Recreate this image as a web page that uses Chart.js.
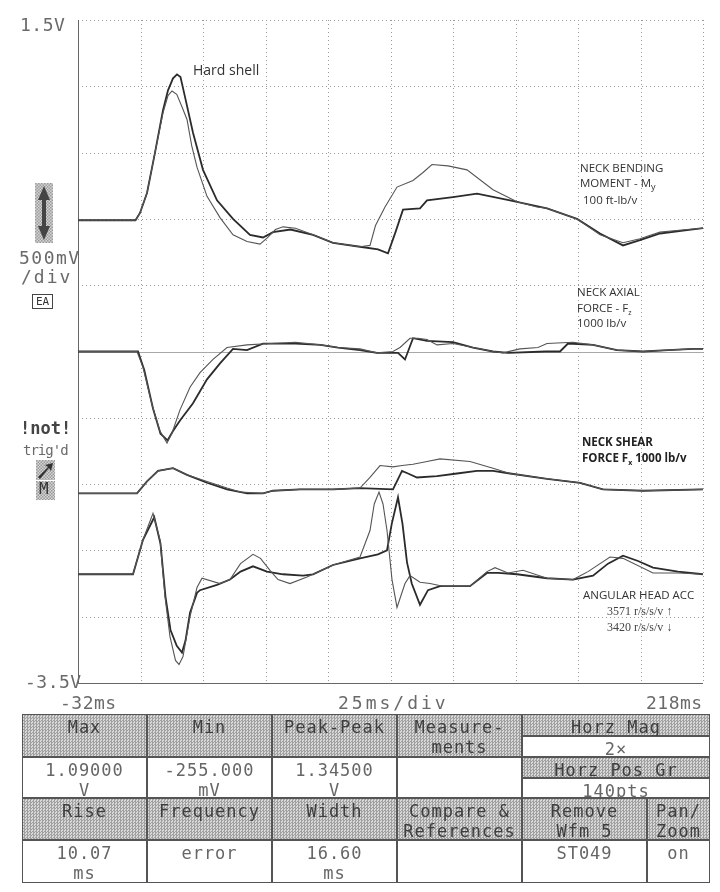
<!DOCTYPE html>
<html>
<head>
<meta charset="utf-8">
<script src="https://cdn.jsdelivr.net/npm/chart.js"></script>
<style>
  body { margin: 0; background: #fff; }
  #page { position: relative; width: 720px; height: 892px; overflow: hidden; background: #fff; }
  #scope { position: absolute; left: 0; top: 0; }
  .lbl { position: absolute; white-space: nowrap; }
  .mono { font-family: "DejaVu Sans Mono", "Liberation Mono", monospace; color: #6a6a6a; font-size: 18px; line-height: 1; }
  .note { font-family: "Open Sans", "Noto Sans", sans-serif; color: #333; font-size: 11.5px; line-height: 1; }
  .serif { font-family: "Liberation Serif", "DejaVu Serif", serif; color: #444; font-size: 12px; line-height: 1; }
  .cell { position: absolute; box-sizing: border-box; font-family: "DejaVu Sans Mono", "Liberation Mono", monospace;
          font-size: 17px; color: #666; text-align: center; line-height: 20px; letter-spacing: 1px; }
  .shade { background: repeating-conic-gradient(#a0a0a0 0 25%, #d8d8d8 0 50%) 0 0 / 3px 3px; color: #3e3e3e; }
</style>
</head>
<body>
<div id="page">
  <canvas id="scope" width="720" height="712"></canvas>
</div>
<script>
// time axis (ms) and voltage axis (V), one division = 25 ms / 500 mV
const timeTicks = [-32, -7, 18, 43, 68, 93, 118, 143, 168, 193, 218];
const voltTicks = [1.5, 1.0, 0.5, 0.0, -0.5, -1.0, -1.5, -2.0, -2.5, -3.0, -3.5];

// neck bending moment My (hard shell = higher peak)
const bendHard = [[-32,-0.01],[-9,-0.01],[-7.2,0.045],[-4.4,0.195],[-1.2,0.5],[2,0.82],[4,0.97],[6,1.06],[7.6,1.09],[9,1.07],
  [10.8,0.92],[14,0.65],[18,0.37],[23.6,0.14],[30,0.0],[36.8,-0.12],[42,-0.14],[46,-0.1],[53,-0.08],[62,-0.12],[70,-0.18],
  [80.8,-0.21],[88,-0.23],[92,-0.26],[95,-0.1],[98,0.07],[104.8,0.08],[107.6,0.14],[118,0.165],[127.6,0.19],[140.8,0.14],
  [155.6,0.08],[167.6,0.0],[176.8,-0.11],[186,-0.2],[192.8,-0.16],[200.8,-0.11],[211.6,-0.085],[218,-0.07]];
const bendSoft = [[-32,-0.01],[-9,-0.01],[-7.2,0.045],[-4.4,0.195],[-1.2,0.5],[2,0.8],[4,0.93],[5.6,0.965],[7.5,0.94],[9.5,0.85],
  [11.6,0.75],[13.5,0.55],[15.6,0.39],[19.6,0.17],[24.8,0.01],[30,-0.12],[35.6,-0.17],[40.8,-0.19],[43.6,-0.145],[47,-0.08],
  [50,-0.06],[55,-0.07],[62,-0.12],[70,-0.18],[80.8,-0.21],[84.8,-0.2],[87,-0.05],[90.8,0.09],[95.6,0.24],[102,0.29],[106,0.35],
  [109.6,0.41],[116,0.4],[123.6,0.37],[134,0.22],[143.6,0.13],[151.6,0.09],[155.6,0.08],[167.6,0.0],[176.8,-0.12],[186,-0.18],
  [192.8,-0.15],[200.8,-0.1],[211.6,-0.08],[218,-0.07]];

// neck axial force Fz
const axialA = [[-32,-1.0],[-8.4,-1.0],[-6,-1.12],[-2.4,-1.4],[0.8,-1.6],[3.6,-1.69],[5.5,-1.62],[8.8,-1.44],[12.8,-1.27],
  [16.8,-1.16],[22,-1.06],[27.6,-0.97],[35.6,-0.95],[45,-0.94],[55,-0.93],[65,-0.95],[72,-0.97],[80.8,-0.98],[87.6,-1.01],
  [94,-1.0],[96.8,-0.97],[100.8,-0.9],[104,-0.9],[107.6,-0.91],[111.6,-0.95],[118,-0.94],[126,-0.97],[134,-1.0],[138,-1.01],
  [144.8,-0.98],[152,-0.97],[155.6,-0.94],[166,-0.93],[174,-0.95],[183.6,-0.99],[194,-1.0],[204,-0.99],[214,-0.98],[218,-0.98]];
const axialB = [[-32,-1.0],[-8,-1.0],[-5.5,-1.14],[-2,-1.43],[1,-1.62],[3.8,-1.67],[6,-1.6],[8.8,-1.52],[14,-1.39],[19.6,-1.21],
  [24.8,-1.09],[30,-0.98],[35.6,-0.99],[42,-0.94],[55,-0.94],[65,-0.95],[72,-0.97],[80.8,-0.99],[87.6,-1.01],[96,-1.01],
  [98.8,-1.06],[102,-0.9],[107.6,-0.92],[118,-0.93],[126,-0.97],[134,-1.0],[140,-1.01],[155,-1.0],[160.8,-1.0],[164,-0.94],
  [174,-0.95],[183.6,-0.99],[194,-1.0],[204,-0.99],[214,-0.98],[218,-0.98]];

// neck shear force Fx
const shearA = [[-32,-2.07],[-8.4,-2.07],[-4.4,-1.98],[0,-1.9],[6,-1.88],[11.6,-1.93],[19.6,-1.98],[27.6,-2.03],[32.8,-2.06],
  [42,-2.07],[46,-2.05],[56.8,-2.04],[70,-2.04],[80.8,-2.03],[84.8,-1.95],[88.8,-1.86],[94,-1.87],[97.6,-1.86],[102,-1.85],
  [107.6,-1.83],[112.8,-1.81],[124.8,-1.83],[134,-1.88],[140.8,-1.92],[155.6,-1.96],[168.8,-1.99],[178,-2.04],[194,-2.05],[218,-2.04]];
const shearB = [[-32,-2.07],[-8.4,-2.07],[-4.4,-1.98],[0,-1.9],[6,-1.88],[11.6,-1.93],[19.6,-1.99],[27.6,-2.04],[35.6,-2.07],
  [42,-2.07],[46,-2.05],[56.8,-2.04],[70,-2.04],[80.8,-2.03],[94,-2.04],[97.6,-1.9],[100,-1.92],[103.6,-1.95],[111.6,-1.94],
  [119.6,-1.92],[127.6,-1.9],[134,-1.9],[140.8,-1.92],[155.6,-1.96],[168.8,-1.99],[178,-2.04],[194,-2.05],[218,-2.04]];

// angular head acceleration
const accA = [[-32,-2.68],[-10,-2.68],[-6,-2.42],[-2,-2.22],[0.8,-2.42],[2.8,-2.85],[4.8,-3.15],[7,-3.33],[8.4,-3.36],[10,-3.3],
  [12.8,-3.0],[15.6,-2.78],[17.6,-2.71],[24.8,-2.75],[28.8,-2.72],[33,-2.6],[38,-2.53],[41,-2.56],[44.8,-2.65],[48,-2.72],
  [52.8,-2.75],[59.6,-2.7],[70,-2.61],[80.8,-2.55],[84.8,-2.35],[86.5,-2.15],[88.4,-2.06],[90,-2.15],[91.6,-2.35],[93.6,-2.72],
  [95.6,-2.93],[98.8,-2.75],[100.8,-2.69],[104.8,-2.74],[108.8,-2.75],[114,-2.77],[124.8,-2.77],[131.6,-2.66],[134.8,-2.63],
  [140,-2.67],[146,-2.65],[155.6,-2.71],[166,-2.72],[172,-2.66],[180.8,-2.55],[186,-2.56],[198,-2.67],[208,-2.67],[218,-2.68]];
const accB = [[-32,-2.68],[-10,-2.68],[-6,-2.42],[-1.5,-2.25],[1,-2.45],[3,-2.85],[5,-3.1],[7.5,-3.22],[9.6,-3.27],[11,-3.18],
  [12.8,-2.97],[15.6,-2.82],[16.8,-2.8],[23.6,-2.76],[28.8,-2.72],[33,-2.66],[38,-2.62],[43.6,-2.66],[50,-2.68],[58,-2.69],
  [62,-2.68],[70,-2.61],[80.8,-2.56],[88,-2.53],[91.6,-2.5],[93.5,-2.3],[96,-2.1],[97.8,-2.3],[99.6,-2.59],[101.5,-2.75],
  [104.8,-2.91],[108,-2.8],[112.8,-2.77],[124.8,-2.77],[131.6,-2.67],[136,-2.67],[143.6,-2.68],[155.6,-2.71],[166,-2.72],
  [174,-2.69],[180,-2.6],[186,-2.54],[192,-2.58],[198,-2.63],[208,-2.66],[218,-2.68]];

const toXY = (pts) => pts.map(([t, v]) => ({ x: t, y: v }));
const thick = (pts) => ({ data: toXY(pts), borderColor: '#2b2b2b', borderWidth: 1.8 });
const thin = (pts) => ({ data: toXY(pts), borderColor: '#555', borderWidth: 1.1 });

// dotted graticule, solid centre line, solid left/bottom edges
const graticule = {
  id: 'graticule',
  beforeDatasetsDraw(chart) {
    const { ctx, chartArea: a, scales: { x, y } } = chart;
    ctx.save();
    ctx.strokeStyle = '#9a9a9a';
    ctx.lineWidth = 1;
    ctx.setLineDash([1, 3]);
    timeTicks.forEach((t) => {
      const px = Math.round(x.getPixelForValue(t)) + 0.5;
      ctx.beginPath(); ctx.moveTo(px, a.top); ctx.lineTo(px, a.bottom); ctx.stroke();
    });
    voltTicks.forEach((v) => {
      if (v === -1.0) return;
      const py = Math.round(y.getPixelForValue(v)) + 0.5;
      ctx.beginPath(); ctx.moveTo(a.left, py); ctx.lineTo(a.right, py); ctx.stroke();
    });
    ctx.setLineDash([]);
    const cy = Math.round(y.getPixelForValue(-1.0)) + 0.5;
    ctx.strokeStyle = '#a8a8a8';
    ctx.beginPath(); ctx.moveTo(a.left, cy); ctx.lineTo(a.right, cy); ctx.stroke();
    ctx.strokeStyle = '#666';
    const lx = Math.round(a.left) + 0.5;
    const by = Math.round(a.bottom) + 0.5;
    ctx.beginPath(); ctx.moveTo(lx, a.top); ctx.lineTo(lx, by); ctx.lineTo(a.right, by); ctx.stroke();
    ctx.restore();
  }
};

new Chart(document.getElementById('scope'), {
  type: 'line',
  data: {
    datasets: [
      thin(bendSoft), thick(bendHard),
      thin(axialA), thick(axialB),
      thin(shearA), thick(shearB),
      thin(accA), thick(accB)
    ]
  },
  options: {
    responsive: false,
    animation: false,
    layout: { padding: { left: 78, top: 20, right: 17, bottom: 29 } },
    elements: { point: { radius: 0 }, line: { tension: 0 } },
    scales: {
      x: { type: 'linear', min: -32, max: 218, display: false },
      y: { type: 'linear', min: -3.5, max: 1.5, display: false }
    },
    plugins: { legend: { display: false }, tooltip: { enabled: false } }
  },
  plugins: [graticule]
});

// scope labels and annotations
const page = document.getElementById('page');
const addLabel = (html, cls, left, top, extra) => {
  const d = document.createElement('div');
  d.className = 'lbl ' + cls;
  d.innerHTML = html;
  d.style.left = left + 'px';
  d.style.top = top + 'px';
  if (extra) Object.assign(d.style, extra);
  page.appendChild(d);
};
addLabel('1.5V', 'mono', 20, 16, { letterSpacing: '0.5px' });
addLabel('500mV', 'mono', 19, 249, { letterSpacing: '1.5px' });
addLabel('/div', 'mono', 21, 268, { letterSpacing: '2px' });
addLabel('EA', 'mono', 32, 294, { fontSize: '11px', border: '1px solid #444', padding: '1px 3px', color: '#333' });
addLabel('!not!', 'mono', 20, 420, { fontWeight: 'bold', color: '#444', fontSize: '17px' });
addLabel('trig\'d', 'mono', 23, 443, { fontSize: '14px', letterSpacing: '-1px' });
addLabel('-3.5V', 'mono', 25, 673, { letterSpacing: '0.5px' });
addLabel('-32ms', 'mono', 60, 694, { letterSpacing: '0.5px' });
addLabel('25ms/div', 'mono', 338, 694, { letterSpacing: '3px' });
addLabel('218ms', 'mono', 646, 694, { letterSpacing: '0.5px' });

addLabel('Hard shell', 'note', 193, 63, { fontSize: '14px' });
addLabel('NECK BENDING', 'note', 580, 162);
addLabel('MOMENT - M<sub style="font-size:9px">y</sub>', 'note', 580, 177);
addLabel('100 ft-lb/v', 'note', 583, 194);
addLabel('NECK AXIAL', 'note', 577, 286);
addLabel('FORCE - F<sub style="font-size:7px">z</sub>', 'note', 577, 302);
addLabel('1000 lb/v', 'note', 577, 317);
addLabel('NECK SHEAR', 'note', 582, 436, { fontWeight: 'bold', color: '#222' });
addLabel('FORCE F<sub style="font-size:7px">x</sub> 1000 lb/v', 'note', 582, 452, { fontWeight: 'bold', color: '#222' });
addLabel('ANGULAR HEAD ACC', 'note', 583, 589);
addLabel('3571 r/s/s/v &#8593;', 'serif', 607, 605);
addLabel('3420 r/s/s/v &#8595;', 'serif', 607, 621);

// small icons on the left
const icons = document.createElement('div');
icons.innerHTML =
  '<svg style="position:absolute;left:35px;top:183px" width="18" height="60">' +
  '<defs><pattern id="dith" width="3" height="3" patternUnits="userSpaceOnUse">' +
  '<rect width="3" height="3" fill="#d6d6d6"/><rect width="1.5" height="1.5" fill="#9a9a9a"/><rect x="1.5" y="1.5" width="1.5" height="1.5" fill="#9a9a9a"/></pattern></defs>' +
  '<rect width="18" height="60" fill="url(#dith)"/>' +
  '<path d="M9 3 L15 17 L11 17 L11 43 L15 43 L9 57 L3 43 L7 43 L7 17 L3 17 Z" fill="#444"/></svg>' +
  '<svg style="position:absolute;left:36px;top:460px" width="19" height="40">' +
  '<rect width="19" height="20" fill="url(#dith)"/><rect y="21" width="19" height="19" fill="url(#dith)"/>' +
  '<path d="M2 17 L12 7 L9 5 L17 3 L15 11 L13 8 L4 19 Z" fill="#333"/></svg>';
page.appendChild(icons);
addLabel('M', 'mono', 39, 481, { fontSize: '16px', color: '#333' });

// measurement menu table
const cells = [
  // [text, left, top, width, height, shaded]
  ['Max', 22, 714, 125, 43, true], ['Min', 147, 714, 125, 43, true], ['Peak-Peak', 272, 714, 125, 43, true],
  ['Measure-<br>ments', 397, 714, 125, 43, true], ['Horz Mag', 522, 714, 188, 22, true], ['2&times;', 522, 736, 188, 21, false],
  ['1.09000<br>V', 22, 757, 125, 41, false], ['-255.000<br>mV', 147, 757, 125, 41, false], ['1.34500<br>V', 272, 757, 125, 41, false],
  ['', 397, 757, 125, 41, false], ['Horz Pos Gr', 522, 757, 188, 21, true], ['140pts', 522, 778, 188, 20, false],
  ['Rise', 22, 798, 125, 42, true], ['Frequency', 147, 798, 125, 42, true], ['Width', 272, 798, 125, 42, true],
  ['Compare &amp;<br>References', 397, 798, 125, 42, true], ['Remove<br>Wfm 5', 522, 798, 125, 42, true], ['Pan/<br>Zoom', 647, 798, 63, 42, true],
  ['10.07<br>ms', 22, 840, 125, 43, false], ['error', 147, 840, 125, 43, false], ['16.60<br>ms', 272, 840, 125, 43, false],
  ['', 397, 840, 125, 43, false], ['ST049', 522, 840, 125, 43, false], ['on', 647, 840, 63, 43, false]
];
cells.forEach(([text, left, top, w, h, shaded]) => {
  const d = document.createElement('div');
  d.className = 'cell' + (shaded ? ' shade' : '');
  Object.assign(d.style, { left: left + 'px', top: top + 'px', width: w + 'px', height: h + 'px',
    border: '1px solid #555', paddingTop: '2px' });
  d.innerHTML = text;
  page.appendChild(d);
});
</script>
</body>
</html>
